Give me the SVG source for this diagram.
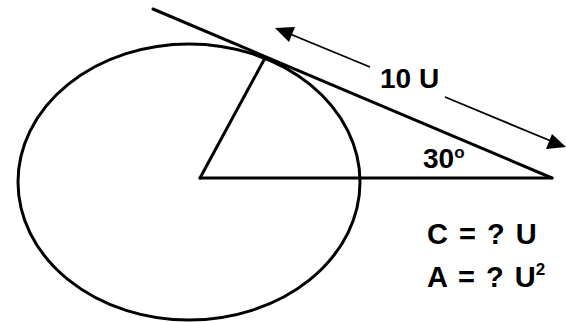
<svg xmlns="http://www.w3.org/2000/svg" width="566" height="322" viewBox="0 0 566 322">
<style>
.thick{stroke:#000;stroke-width:3;fill:none;stroke-linecap:round}
.thin{stroke:#000;stroke-width:1.8;fill:none}
.head{fill:#000}
.lbl{font-family:"Liberation Sans",Arial,sans-serif;font-weight:bold;font-size:28px;fill:#000}
.big{font-size:29px;word-spacing:3px}
.sup{font-size:17px}
</style>
<rect width="566" height="322" fill="#fff"/>
<g id="circle">
<ellipse cx="189" cy="182" rx="171" ry="138" class="thick"/>
</g>
<g id="connectors">
<line x1="153" y1="9" x2="552" y2="178" class="thick" stroke-width="3.5"/>
<line x1="200" y1="178" x2="265" y2="58" class="thick"/>
<line x1="200" y1="178" x2="552" y2="178" class="thick"/>
<line x1="370" y1="67" x2="290" y2="34" class="thin"/>
<polygon class="head" points="275,28 295,27 289,42"/>
<line x1="445" y1="97" x2="551" y2="141" class="thin"/>
<polygon class="head" points="566,147 546,149 552,134"/>
</g>
<g id="labels">
<text x="380" y="88" class="lbl">10 U</text>
<text x="423" y="168" class="lbl">30<tspan class="sup" dy="-10">o</tspan></text>
<text x="427" y="244" class="lbl big">C = ? U</text>
<text x="427" y="287" class="lbl big">A = ? U<tspan class="sup" dy="-12">2</tspan></text>
</g>
</svg>
